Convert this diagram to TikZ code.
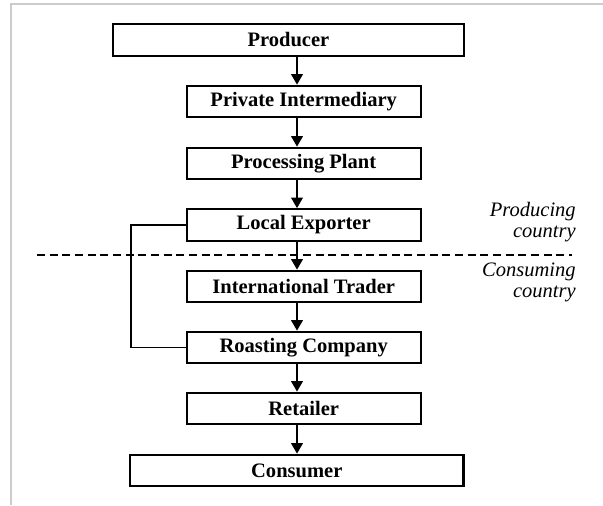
\documentclass[tikz,border=0pt]{standalone}
\usepackage{fontspec}
\setmainfont{Liberation Serif}
\usetikzlibrary{arrows.meta}
\begin{document}
\begin{tikzpicture}[x=0.75pt,y=-0.75pt,
  box/.style={draw=black,line width=1.6pt,inner sep=0pt,minimum height=23.5pt,
    font=\fontsize{15.4pt}{17pt}\selectfont\bfseries},
  arr/.style={line width=2pt,-{Triangle[length=8pt,width=8.5pt]}},
  bypass/.style={line width=1.1pt},
  border/.style={draw=black!20,line width=0.9pt},
  region/.style={align=right,inner sep=0pt,font=\fontsize{15.4pt}{16pt}\selectfont\itshape}]
\useasboundingbox (0,0) rectangle (603,506);
% frame
\coordinate (f1) at (11,505);
\coordinate (f2) at (11,4);
\coordinate (f3) at (603,4);
\draw[border] (f1) -- (f2) -- (f3);
% boxes
\node[box,minimum width=263.5pt] (prod) at (288.4,40) {Producer};
\node[box,minimum width=175.5pt] (pi) at (303.7,101.5) {Private Intermediary};
\node[box,minimum width=175.5pt] (pp) at (303.7,163.5) {Processing Plant};
\node[box,minimum width=175.5pt] (le) at (303.7,225) {Local Exporter};
\node[box,minimum width=175.5pt] (it) at (303.7,286.5) {International Trader};
\node[box,minimum width=175.5pt] (rc) at (303.7,347.5) {Roasting Company};
\node[box,minimum width=175.5pt] (re) at (303.7,408.5) {Retailer};
\node[box,minimum width=250pt] (co) at (296.8,470.5) {Consumer};
% arrow axis
\coordinate (ax) at (297,0);
\draw[arr] (prod.south -| ax) -- (pi.north -| ax);
\draw[arr] (pi.south -| ax) -- (pp.north -| ax);
\draw[arr] (pp.south -| ax) -- (le.north -| ax);
\draw[arr] (le.south -| ax) -- (it.north -| ax);
\draw[arr] (it.south -| ax) -- (rc.north -| ax);
\draw[arr] (rc.south -| ax) -- (re.north -| ax);
\draw[arr] (re.south -| ax) -- (co.north -| ax);
% bypass
\coordinate (bx) at (131,300);
\draw[bypass] (le.west) -| (bx) |- (rc.west);
% border between countries
\coordinate (dl) at (37,255);
\coordinate (dr) at (572,255);
\draw[line width=0.8pt,dash pattern=on 6pt off 3.5pt] (dl) -- (dr);
% labels
\node[region,anchor=east] (prodc) at (576,222) {Producing\\country};
\node[region,anchor=east] (consc) at (576,282.5) {Consuming\\country};
\end{tikzpicture}
\end{document}
